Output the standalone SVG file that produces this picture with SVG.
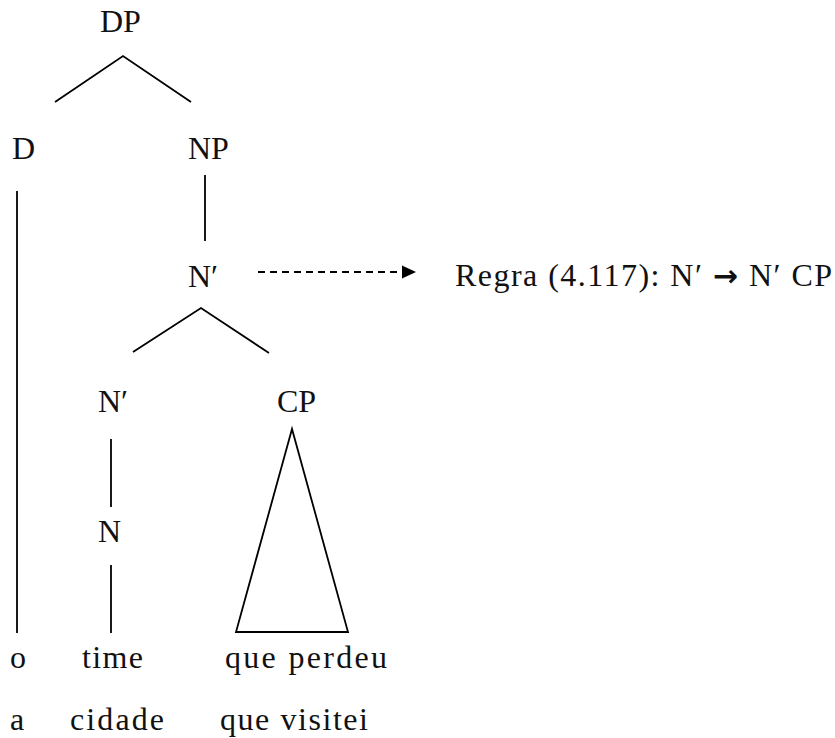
<svg xmlns="http://www.w3.org/2000/svg" width="835" height="738" viewBox="0 0 835 738">
<defs>
<style>
text{font-family:"Liberation Serif","Times New Roman",serif;font-size:32px;fill:#111;}
.arr{font-family:"DejaVu Sans",sans-serif;font-weight:bold;font-size:30px;}
.ln{stroke:#000;stroke-width:1.8;fill:none;stroke-linecap:butt;}
.dash{stroke:#000;stroke-width:1.8;fill:none;stroke-dasharray:7 5;}
</style>
<marker id="ah" markerUnits="userSpaceOnUse" markerWidth="15" markerHeight="15" refX="0" refY="7" orient="auto">
<path d="M0,0.5 L14,7 L0,13.5 Z" fill="#000"/>
</marker>
</defs>
<rect width="835" height="738" fill="#fff"/>
<g id="connectors">
<path class="ln" d="M55,102 L123,56 L191,102"/>
<line class="ln" x1="17" y1="191" x2="17" y2="633"/>
<line class="ln" x1="205" y1="175" x2="205" y2="241"/>
<path class="ln" d="M133,352 L201,308 L269,353"/>
<line class="ln" x1="111" y1="439" x2="111" y2="507"/>
<line class="ln" x1="111" y1="565" x2="111" y2="633"/>
<polygon class="ln" points="292,429 236,632 348,632"/>
<line class="dash" x1="258" y1="272" x2="402" y2="272" marker-end="url(#ah)"/>
</g>
<g id="DP"><text x="100" y="32">DP</text></g>
<g id="D"><text x="12" y="159">D</text></g>
<g id="NP"><text x="188" y="159">NP</text></g>
<g id="Nbar1"><text x="188" y="287">N′</text></g>
<g id="rule"><text x="455" y="286" textLength="377" lengthAdjust="spacing">Regra (4.117): N′ <tspan class="arr">→</tspan> N′ CP</text></g>
<g id="Nbar2"><text x="98" y="412">N′</text></g>
<g id="CP"><text x="277" y="412">CP</text></g>
<g id="N"><text x="98" y="542">N</text></g>
<g id="w-o"><text x="10" y="668">o</text></g>
<g id="w-time"><text x="82" y="668" textLength="61" lengthAdjust="spacing">time</text></g>
<g id="w-queperdeu"><text x="225" y="668" textLength="162" lengthAdjust="spacing">que perdeu</text></g>
<g id="w-a"><text x="10" y="730">a</text></g>
<g id="w-cidade"><text x="70" y="730" textLength="94" lengthAdjust="spacing">cidade</text></g>
<g id="w-quevisitei"><text x="220" y="730" textLength="148" lengthAdjust="spacing">que visitei</text></g>
</svg>
